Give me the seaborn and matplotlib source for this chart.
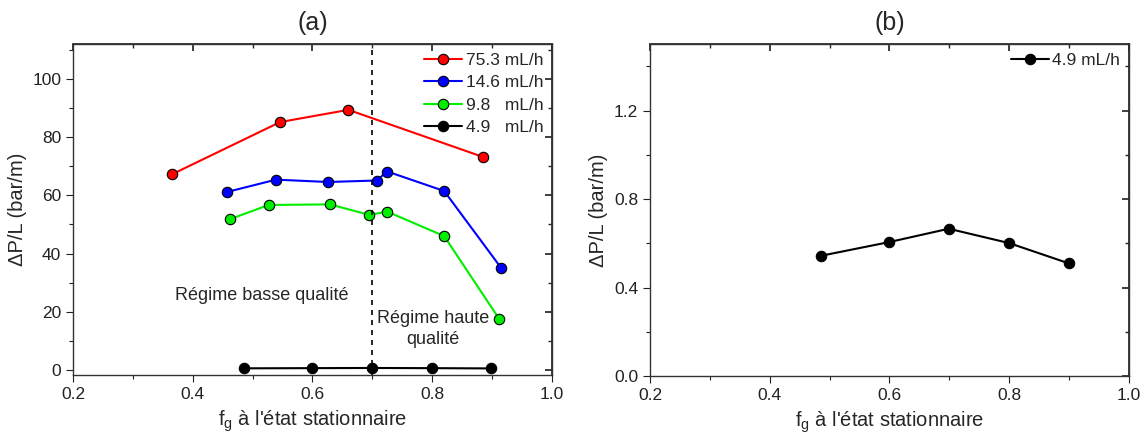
import numpy as np
import pandas as pd
import matplotlib
matplotlib.use("Agg")
import matplotlib.pyplot as plt
import seaborn as sns
from matplotlib.ticker import MultipleLocator

sns.set_theme(style="white")
plt.rcParams['font.family'] = ['Liberation Sans', 'DejaVu Sans']
plt.rcParams['mathtext.fontset'] = 'custom'
plt.rcParams['mathtext.rm'] = 'Liberation Sans'
plt.rcParams['mathtext.it'] = 'Liberation Sans'

# ---- data ----
x_753 = [0.366, 0.546, 0.660, 0.885]
y_753 = [67.3, 85.2, 89.4, 73.2]
x_146 = [0.458, 0.539, 0.626, 0.707, 0.725, 0.820, 0.915]
y_146 = [61.2, 65.4, 64.6, 65.1, 68.2, 61.5, 35.1]
x_98 = [0.462, 0.527, 0.629, 0.695, 0.725, 0.820, 0.912]
y_98 = [51.8, 56.7, 56.9, 53.3, 54.4, 46.0, 17.5]
x_49 = [0.486, 0.600, 0.699, 0.800, 0.899]
y_49 = [0.544, 0.606, 0.666, 0.601, 0.510]

labels_a = ["75.3 mL/h", "14.6 mL/h", "9.8   mL/h", "4.9   mL/h"]
label_b = "4.9 mL/h"
colors = ["#ff0000", "#0000ff", "#00ee00", "#000000"]

fig = plt.figure(figsize=(11.47, 4.41), dpi=100)
ax1 = fig.add_axes([0.0636, 0.150, 0.4176, 0.750])
ax2 = fig.add_axes([0.5667, 0.147, 0.4176, 0.753])

series = [(x_753, y_753), (x_146, y_146), (x_98, y_98), (x_49, y_49)]
for (xs, ys), lab, c in zip(series, labels_a, colors):
    sns.lineplot(x=xs, y=ys, ax=ax1, color=c, marker='o', markersize=7.5,
                 markeredgecolor='black', markeredgewidth=0.8, linewidth=1.5,
                 label=lab, sort=False)

ax1.axvline(0.7, color='black', linestyle=(0, (3, 3)), linewidth=1.2)
ax1.text(0.516, 25.5, "Régime basse qualité", ha='center', va='center', fontsize=13)
ax1.text(0.801, 14.1, "Régime haute\nqualité", ha='center', va='center', fontsize=13,
         linespacing=1.25)

sns.lineplot(x=x_49, y=y_49, ax=ax2, color='black', marker='o', markersize=7.5,
             markeredgecolor='black', markeredgewidth=0.8, linewidth=1.5,
             label=label_b, sort=False)

ax1.set_xlim(0.2, 1.0)
ax1.set_ylim(-1.7, 112)
ax1.yaxis.set_major_locator(MultipleLocator(20))
ax1.yaxis.set_minor_locator(MultipleLocator(10))
ax2.set_xlim(0.2, 1.0)
ax2.set_ylim(0, 1.5)
ax2.yaxis.set_major_locator(MultipleLocator(0.4))
ax2.yaxis.set_minor_locator(MultipleLocator(0.2))
ax2.yaxis.set_major_formatter(matplotlib.ticker.FormatStrFormatter('%.1f'))

for ax, t in [(ax1, "(a)"), (ax2, "(b)")]:
    ax.xaxis.set_major_locator(MultipleLocator(0.2))
    ax.xaxis.set_minor_locator(MultipleLocator(0.1))
    ax.xaxis.set_major_formatter(matplotlib.ticker.FormatStrFormatter('%.1f'))
    ax.tick_params(which='both', direction='out', bottom=True, left=True,
                   labelsize=12.5, colors='#222222')
    ax.tick_params(which='major', length=5, width=0.8)
    ax.tick_params(which='minor', length=3, width=0.8)
    for s in ax.spines.values():
        s.set_color('#333333')
        s.set_linewidth(1.0)
    sx = ax.secondary_xaxis('top')
    sx.xaxis.set_major_locator(MultipleLocator(0.2))
    sx.xaxis.set_minor_locator(MultipleLocator(0.1))
    sx.tick_params(which='both', direction='in', labeltop=False)
    sx.tick_params(which='major', length=5)
    sx.tick_params(which='minor', length=3)
    sy = ax.secondary_yaxis('right')
    sy.yaxis.set_major_locator(ax.yaxis.get_major_locator())
    sy.yaxis.set_minor_locator(ax.yaxis.get_minor_locator())
    sy.tick_params(which='both', direction='in', labelright=False)
    sy.tick_params(which='major', length=5)
    sy.tick_params(which='minor', length=3)
    ax.set_xlabel(r"f$_{\rm g}$ à l'état stationnaire", fontsize=14.5, labelpad=5)
    ax.set_ylabel("ΔP/L (bar/m)", fontsize=14.5)
    ax.set_title(t, fontsize=18, pad=10)
    ax.legend(loc='upper right', frameon=False, fontsize=12.5, handlelength=2.2,
              handletextpad=0.2, labelspacing=0.42, borderaxespad=0.3, borderpad=0.2)

fig.savefig("out.png", dpi=100)
